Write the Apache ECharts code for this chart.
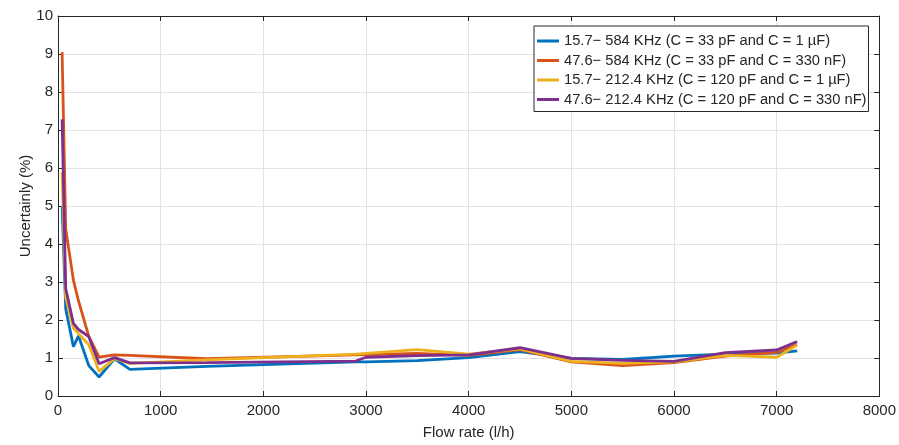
<!DOCTYPE html>
<html>
<head>
<meta charset="utf-8">
<script src="https://cdn.jsdelivr.net/npm/echarts@6/dist/echarts.min.js"></script>
<style>
  html, body { margin: 0; padding: 0; background: #fff; }
  #chart { width: 899px; height: 445px; }
</style>
</head>
<body>
<div id="chart"></div>
<script>
// Flow rate sample points (l/h)
const flowRate = [40, 75, 150, 200, 300, 400, 550, 700, 1450, 2900, 3000, 3500, 4000, 4500, 5000, 5500, 6000, 6500, 7000, 7200];

// Measurement uncertainty (%) for each excitation range
const unc_15_584 = [5.0, 2.3, 1.3, 1.58, 0.8, 0.5, 0.98, 0.7, 0.78, 0.9, 0.9, 0.93, 1.01, 1.17, 0.99, 0.96, 1.05, 1.1, 1.13, 1.19];
const unc_47_584 = [9.05, 4.4, 3.05, 2.5, 1.57, 1.02, 1.08, 1.07, 0.98, 1.08, 1.09, 1.12, 1.07, 1.22, 0.9, 0.8, 0.88, 1.05, 1.15, 1.35];
const unc_15_212 = [5.88, 2.6, 1.79, 1.64, 1.35, 0.65, 0.98, 0.86, 0.95, 1.1, 1.12, 1.22, 1.1, 1.24, 0.91, 0.86, 0.9, 1.07, 1.02, 1.34];
const unc_47_212 = [7.28, 2.83, 1.91, 1.75, 1.56, 0.85, 1.01, 0.87, 0.88, 0.92, 1.02, 1.06, 1.08, 1.27, 0.99, 0.94, 0.91, 1.14, 1.21, 1.43];

const seriesNames = [
  '15.7\u2212 584 KHz (C = 33 pF and C = 1 \u00B5F)',
  '47.6\u2212 584 KHz (C = 33 pF and C = 330 nF)',
  '15.7\u2212 212.4 KHz (C = 120 pF and C = 1 \u00B5F)',
  '47.6\u2212 212.4 KHz (C = 120 pF and C = 330 nF)'
];
const xTicks = { min: 0, max: 8000, step: 1000 };
const yTicks = { min: 0, max: 10, step: 1 };

const colors = ['#0072BD', '#D95319', '#EDB120', '#7E2F8E'];
const values = [unc_15_584, unc_47_584, unc_15_212, unc_47_212];
const FONT = '"Liberation Sans", Arial, sans-serif';
const INK = '#262626';
const FS = 15;

const chart = echarts.init(document.getElementById('chart'), null, { renderer: 'canvas' });

const axisBase = {
  axisLine: { show: true, onZero: false, lineStyle: { color: INK, width: 1 } },
  axisTick: { show: true, inside: true, length: 5, lineStyle: { color: INK } },
  axisLabel: { color: INK, fontSize: FS, fontFamily: FONT },
};

chart.setOption({
  animation: false,
  backgroundColor: '#fff',
  color: colors,
  grid: { left: 58, right: 19, top: 16, bottom: 47, containLabel: false },
  xAxis: [
    Object.assign({}, axisBase, {
      type: 'value', min: xTicks.min, max: xTicks.max, interval: xTicks.step,
      position: 'bottom',
      name: 'Flow rate (l/h)', nameLocation: 'middle', nameGap: 29,
      nameMoveOverlap: false,
      nameTextStyle: { color: INK, fontSize: FS, fontFamily: FONT },
      axisLabel: Object.assign({}, axisBase.axisLabel, { margin: 7, formatter: v => String(v) }),
      splitLine: { show: true, lineStyle: { color: '#e3e3e3', width: 1 } }
    }),
    Object.assign({}, axisBase, {
      type: 'value', min: xTicks.min, max: xTicks.max, interval: xTicks.step,
      position: 'top', axisLabel: { show: false }, splitLine: { show: false }
    })
  ],
  yAxis: [
    Object.assign({}, axisBase, {
      type: 'value', min: yTicks.min, max: yTicks.max, interval: yTicks.step,
      position: 'left',
      name: 'Uncertainly (%)', nameLocation: 'middle', nameGap: 25, nameRotate: 90,
      nameMoveOverlap: false,
      nameTextStyle: { color: INK, fontSize: FS, fontFamily: FONT },
      axisLabel: Object.assign({}, axisBase.axisLabel, { margin: 5 }),
      splitLine: { show: true, lineStyle: { color: '#e3e3e3', width: 1 } }
    }),
    Object.assign({}, axisBase, {
      type: 'value', min: yTicks.min, max: yTicks.max, interval: yTicks.step,
      position: 'right', axisLabel: { show: false }, splitLine: { show: false }
    })
  ],
  legend: {
    orient: 'vertical',
    left: 534, top: 26,
    backgroundColor: '#fff',
    borderColor: INK, borderWidth: 1, borderRadius: 0,
    padding: [7, 2, 4, 3],
    itemWidth: 22, itemHeight: 3, itemGap: 3.5, itemTextGap: 1,
    icon: 'rect',
    textStyle: { color: INK, fontSize: 14.7, fontFamily: FONT, lineHeight: 16 },
    data: seriesNames
  },
  series: seriesNames.map((name, i) => ({
    name,
    type: 'line',
    xAxisIndex: 0, yAxisIndex: 0,
    showSymbol: false,
    symbol: 'none',
    lineStyle: { width: 2.8, color: colors[i] },
    itemStyle: { color: colors[i] },
    data: flowRate.map((f, k) => [f, values[i][k]])
  }))
});
</script>
</body>
</html>
